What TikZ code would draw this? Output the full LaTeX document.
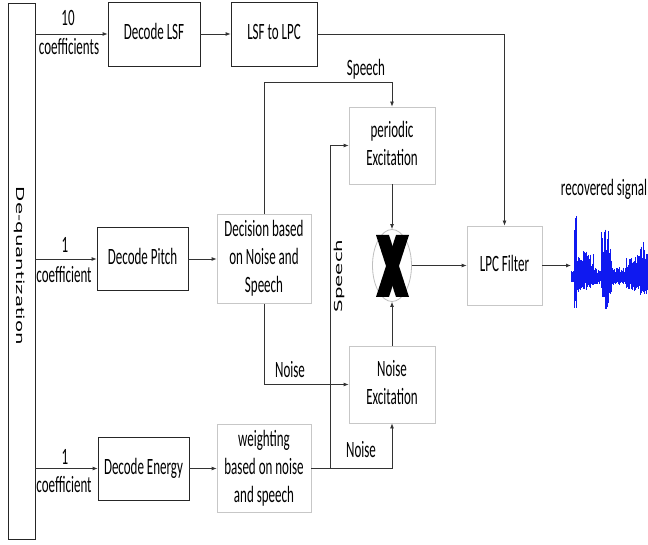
\documentclass[tikz,border=0pt]{standalone}
\usepackage{fontspec}
\setmainfont{Carlito}
\newfontfamily\dvs{DejaVu Sans}
\usepackage{graphicx}
\usetikzlibrary{arrows.meta,shapes.geometric}
\newcommand\tx[1]{\scalebox{1}[1.8]{\begin{tabular}{@{}c@{}}#1\end{tabular}}}
\newcommand\vtx[2]{\scalebox{1}[1.8]{\rotatebox{#1}{\dvs\fontsize{11}{13}\selectfont #2}}}
\definecolor{wblue}{RGB}{15,25,240}
\begin{document}
\begin{tikzpicture}[x=1pt,y=-1pt,
  font=\fontsize{13}{15.6}\selectfont,
  dbox/.style={draw=black!85, line width=0.8pt, inner sep=0pt, fill=white},
  lbox/.style={draw=black!22, line width=0.8pt, inner sep=0pt, fill=white},
  conn/.style={draw=black!80, line width=0.8pt},
  arr/.style={conn, -{Latex[length=5pt,width=4pt]}},
  lbl/.style={inner sep=0pt},
  wave/.style={draw=wblue, line width=0.9pt}]
\useasboundingbox (0,0) rectangle (648,545);

% boxes
\node[dbox, minimum width=27pt, minimum height=536pt] (deq) at (21.5,271) {};
\node[lbl] (deqlbl) at (20,266) {\vtx{-90}{De-quantization}};
\node[dbox, minimum width=92pt, minimum height=64pt] (lsf) at (154,34) {\tx{Decode LSF}};
\node[dbox, minimum width=86pt, minimum height=64pt] (l2l) at (274,34) {\tx{LSF to LPC}};
\node[dbox, minimum width=91pt, minimum height=63pt] (pitch) at (142.5,259) {\tx{Decode Pitch}};
\node[dbox, minimum width=91pt, minimum height=63pt] (energy) at (143.5,468.5) {\tx{Decode Energy}};
\node[lbox, minimum width=94pt, minimum height=89pt] (dec) at (264,259) {\tx{Decision based\\on Noise and\\Speech}};
\node[lbox, minimum width=94pt, minimum height=88pt] (wgt) at (264,468.5) {\tx{weighting\\based on noise\\and speech}};
\node[lbox, minimum width=86pt, minimum height=77pt] (per) at (392,145.5) {\tx{periodic\\Excitation}};
\node[lbox, minimum width=86pt, minimum height=77pt] (nex) at (392,384.5) {\tx{Noise\\Excitation}};
\node[lbox, minimum width=75pt, minimum height=79pt] (lpc) at (504.5,265.5) {\tx{LPC Filter}};
\node[ellipse, draw=black!25, line width=0.8pt, fill=white, minimum width=39pt, minimum height=72pt, inner sep=0pt] (mul) at (392,265.5) {};
\fill[black] (376,235) -- (389,235) -- (409,297) -- (396,297) -- cycle;
\fill[black] (396,235) -- (409,235) -- (389,297) -- (376,297) -- cycle;

% labels
\node[lbl] (n10) at (68,20) {\tx{10}};
\node[lbl] (c10) at (69,49) {\tx{coefficients}};
\node[lbl] (n1a) at (65,247) {\tx{1}};
\node[lbl] (c1a) at (64,277) {\tx{coefficient}};
\node[lbl] (n1b) at (65,459) {\tx{1}};
\node[lbl] (c1b) at (64,487) {\tx{coefficient}};
\node[lbl] (sp1) at (366,70) {\tx{Speech}};
\node[lbl] (no1) at (290,372) {\tx{Noise}};
\node[lbl] (no2) at (361,452) {\tx{Noise}};
\node[lbl] (sp2) at (339.5,276) {\vtx{90}{Speech}};
\node[lbl] (rec) at (604,190) {\tx{recovered signal}};

% connectors
\coordinate (tsp) at (392,82);
\coordinate (br) at (330,468.5);
\coordinate (sig) at (571,265.5);
\draw[arr] (deq.east |- lsf.west) -- (lsf.west);
\draw[arr] (lsf) -- (l2l);
\draw[arr] (l2l.east) -| (lpc.north);
\draw[arr] (deq.east |- pitch.west) -- (pitch.west);
\draw[arr] (pitch) -- (dec);
\draw[arr] (deq.east |- energy.west) -- (energy.west);
\draw[arr] (energy) -- (wgt);
\draw[arr] (dec.north) |- (tsp) -- (per.north);
\draw[arr] (dec.south) |- (nex.west);
\draw[arr] (wgt.east) -| (nex.south);
\draw[arr] (br) |- (per.west);
\draw[arr] (per.south) -- (mul.north);
\draw[arr] (nex.north) -- (mul.south);
\draw[arr] (mul.east) -- (lpc.west);
\draw[arr] (lpc.east) -- (sig);

% waveform
\pgfmathsetseed{3}
\foreach \k in {0,...,129} {
  \pgfmathsetmacro\xx{571+\k*0.6}
  \pgfmathsetmacro\up{(\xx<573.5)?6:((\xx<576.5)?67:((\xx<582.5)?20:((\xx<588.5)?27:((\xx<593.5)?24:((\xx<601.5)?9:((\xx<604.5)?47:((\xx<608.5)?55:((\xx<611.5)?32:((\xx<625.5)?10:((\xx<632.5)?19:((\xx<640.5)?22:37)))))))))))}
  \pgfmathsetmacro\dn{(\xx<573.5)?6:((\xx<576.5)?32:((\xx<582.5)?15:((\xx<588.5)?13:((\xx<593.5)?11:((\xx<601.5)?8:((\xx<604.5)?23:((\xx<608.5)?33:((\xx<611.5)?18:((\xx<625.5)?8:((\xx<632.5)?13:((\xx<640.5)?15:18)))))))))))}
  \pgfmathsetmacro\ru{\up*(0.45+0.55*rnd)}
  \pgfmathsetmacro\rd{\dn*(0.45+0.55*rnd)}
  \draw[wave] (\xx,277-\ru) -- (\xx,277+\rd);
}
\end{tikzpicture}
\end{document}
